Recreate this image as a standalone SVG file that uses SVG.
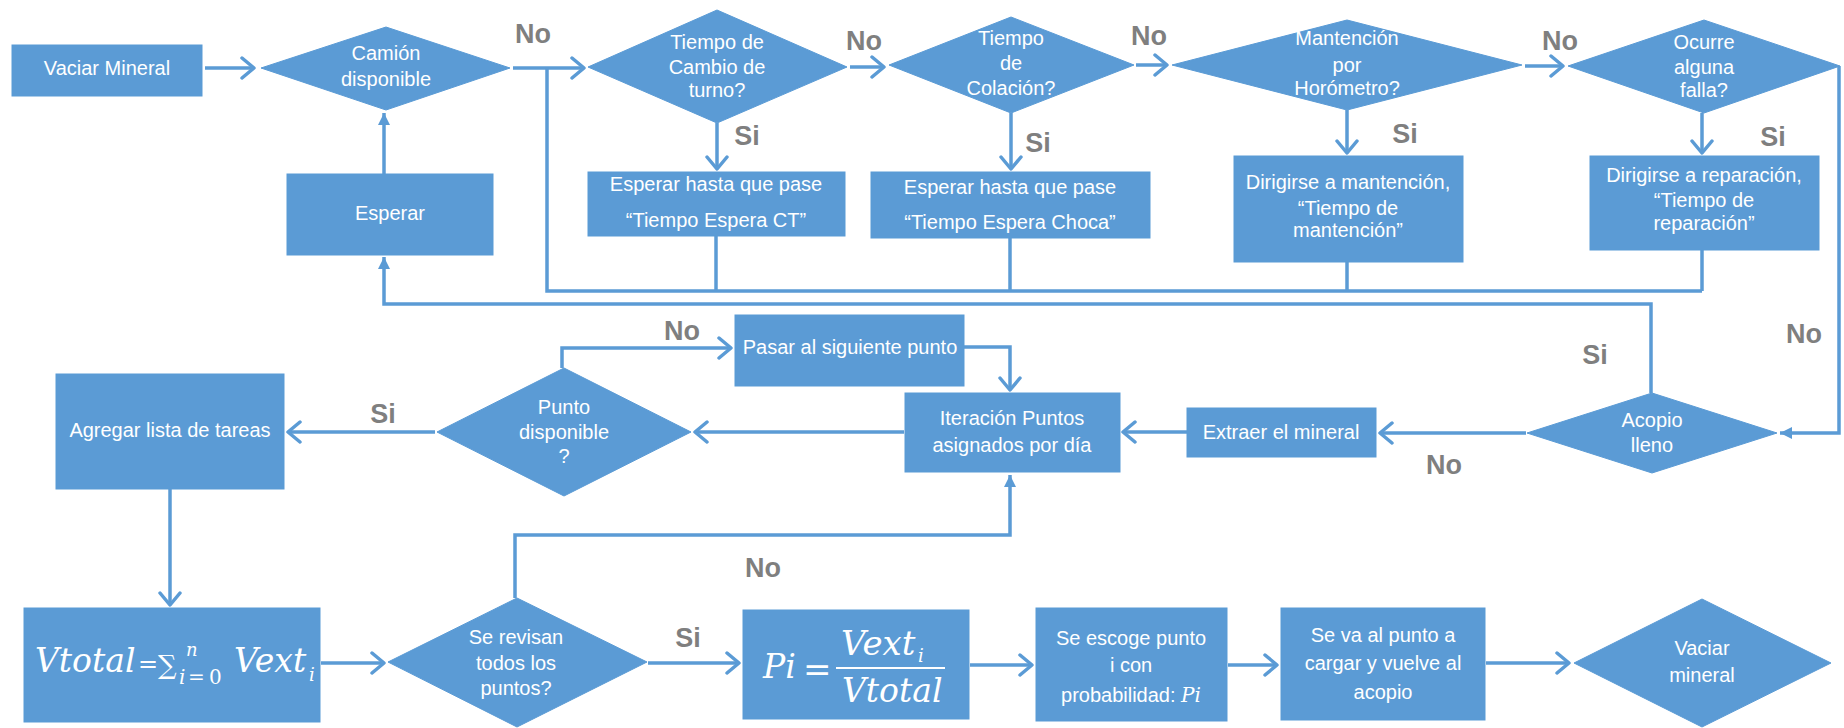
<svg xmlns="http://www.w3.org/2000/svg" width="1844" height="728" viewBox="0 0 1844 728">
<defs>
<style>
.box{fill:#5b9bd5;stroke:#5b9bd5;stroke-width:1}
.t{font-family:"Liberation Sans",Arial,sans-serif;font-size:20px;fill:#ffffff;text-anchor:middle}
.m{font-family:"DejaVu Serif","Liberation Serif",serif;font-style:italic;fill:#ffffff}
.mu{font-family:"DejaVu Serif","Liberation Serif",serif;font-style:normal;fill:#ffffff}
.lbl{font-family:"Liberation Sans",Arial,sans-serif;font-size:27px;font-weight:bold;fill:#7f7f7f;text-anchor:middle}
.c{fill:none;stroke:#5b9bd5;stroke-width:3.5}
.o{marker-end:url(#open)}
.f{marker-end:url(#tri)}
</style>
<marker id="open" viewBox="0 0 16 24" refX="14" refY="12" markerWidth="16" markerHeight="24" orient="auto" markerUnits="userSpaceOnUse">
<path d="M2,2 L14,12 L2,22" fill="none" stroke="#5b9bd5" stroke-width="3.5" stroke-linecap="round" stroke-linejoin="round"/>
</marker>
<marker id="tri" viewBox="0 0 12 12" refX="12" refY="6" markerWidth="12" markerHeight="12" orient="auto" markerUnits="userSpaceOnUse">
<path d="M0,0 L12,6 L0,12 z" fill="#5b9bd5"/>
</marker>
</defs>
<rect width="1844" height="728" fill="#ffffff"/>

<g id="connectors">
<path class="c o" d="M205,68 L254,68"/>
<path class="c o" d="M513,68 L584,68"/>
<path class="c" d="M547,68 L547,291 L1702,291"/>
<path class="c o" d="M850,67 L884,67"/>
<path class="c o" d="M1136,65 L1167,65"/>
<path class="c o" d="M1525,66 L1563,66"/>
<path class="c o" d="M717,123 L717,169"/>
<path class="c o" d="M1011,113 L1011,169"/>
<path class="c o" d="M1347,110 L1347,153"/>
<path class="c o" d="M1702,113 L1702,153"/>
<path class="c" d="M716,236 L716,291"/>
<path class="c" d="M1010,238 L1010,291"/>
<path class="c" d="M1347,262 L1347,291"/>
<path class="c" d="M1702,250 L1702,291"/>
<path class="c f" d="M1651,393 L1651,304 L384,304 L384,257"/>
<path class="c f" d="M384,174 L384,113"/>
<path class="c f" d="M1839,66 L1839,433 L1780,433"/>
<path class="c o" d="M1526,433 L1380,433"/>
<path class="c o" d="M1187,432 L1123,432"/>
<path class="c o" d="M964,347 L1010,347 L1010,390"/>
<path class="c o" d="M562,368 L562,348 L731,348"/>
<path class="c o" d="M904,432 L695,432"/>
<path class="c o" d="M435,432 L288,432"/>
<path class="c o" d="M170,489 L170,605"/>
<path class="c o" d="M321,663 L384,663"/>
<path class="c f" d="M515,598 L515,535 L1010,535 L1010,475"/>
<path class="c o" d="M648,663 L739,663"/>
<path class="c o" d="M970,665 L1032,665"/>
<path class="c o" d="M1228,665 L1277,665"/>
<path class="c o" d="M1486,663 L1569,663"/>
</g>

<g id="labels">
<text class="lbl" x="533" y="43">No</text>
<text class="lbl" x="864" y="50">No</text>
<text class="lbl" x="1149" y="45">No</text>
<text class="lbl" x="1560" y="50">No</text>
<text class="lbl" x="747" y="145">Si</text>
<text class="lbl" x="1038" y="152">Si</text>
<text class="lbl" x="1405" y="143">Si</text>
<text class="lbl" x="1773" y="146">Si</text>
<text class="lbl" x="682" y="340">No</text>
<text class="lbl" x="383" y="423">Si</text>
<text class="lbl" x="1595" y="364">Si</text>
<text class="lbl" x="1804" y="343">No</text>
<text class="lbl" x="1444" y="474">No</text>
<text class="lbl" x="763" y="577">No</text>
<text class="lbl" x="688" y="647">Si</text>
</g>

<g id="n_vaciar">
<rect class="box" x="12" y="45" width="190" height="51"/>
<text class="t" x="107" y="75">Vaciar Mineral</text>
</g>
<g id="n_camion">
<polygon class="box" points="386,27 510,68 386,110 261,68"/>
<text class="t" x="386" y="60">Camión</text>
<text class="t" x="386" y="86">disponible</text>
</g>
<g id="n_cambio_turno">
<polygon class="box" points="717,10 847,67 717,123 588,67"/>
<text class="t" x="717" y="49">Tiempo de</text>
<text class="t" x="717" y="74">Cambio de</text>
<text class="t" x="717" y="97">turno?</text>
</g>
<g id="n_colacion">
<polygon class="box" points="1011,17 1134,65 1011,113 889,65"/>
<text class="t" x="1011" y="45">Tiempo</text>
<text class="t" x="1011" y="70">de</text>
<text class="t" x="1011" y="95">Colación?</text>
</g>
<g id="n_horometro">
<polygon class="box" points="1347,20 1522,65 1347,110 1172,65"/>
<text class="t" x="1347" y="45">Mantención</text>
<text class="t" x="1347" y="72">por</text>
<text class="t" x="1347" y="95">Horómetro?</text>
</g>
<g id="n_falla">
<polygon class="box" points="1704,20 1840,66 1704,113 1568,66"/>
<text class="t" x="1704" y="49">Ocurre</text>
<text class="t" x="1704" y="74">alguna</text>
<text class="t" x="1704" y="97">falla?</text>
</g>
<g id="n_esperar">
<rect class="box" x="287" y="174" width="206" height="81"/>
<text class="t" x="390" y="220">Esperar</text>
</g>
<g id="n_espera_ct">
<rect class="box" x="588" y="172" width="257" height="64"/>
<text class="t" x="716" y="191">Esperar hasta que pase</text>
<text class="t" x="716" y="227">“Tiempo Espera CT”</text>
</g>
<g id="n_espera_choca">
<rect class="box" x="871" y="172" width="279" height="66"/>
<text class="t" x="1010" y="194">Esperar hasta que pase</text>
<text class="t" x="1010" y="229">“Tiempo Espera Choca”</text>
</g>
<g id="n_mantencion">
<rect class="box" x="1234" y="156" width="229" height="106"/>
<text class="t" x="1348" y="189">Dirigirse a mantención,</text>
<text class="t" x="1348" y="215">“Tiempo de</text>
<text class="t" x="1348" y="237">mantención”</text>
</g>
<g id="n_reparacion">
<rect class="box" x="1590" y="156" width="229" height="94"/>
<text class="t" x="1704" y="182">Dirigirse a reparación,</text>
<text class="t" x="1704" y="207">“Tiempo de</text>
<text class="t" x="1704" y="230">reparación”</text>
</g>
<g id="n_acopio">
<polygon class="box" points="1652,393 1777,433 1652,473 1527,433"/>
<text class="t" x="1652" y="427">Acopio</text>
<text class="t" x="1652" y="452">lleno</text>
</g>
<g id="n_extraer">
<rect class="box" x="1187" y="408" width="189" height="49"/>
<text class="t" x="1281" y="439">Extraer el mineral</text>
</g>
<g id="n_iteracion">
<rect class="box" x="905" y="393" width="215" height="79"/>
<text class="t" x="1012" y="425">Iteración Puntos</text>
<text class="t" x="1012" y="452">asignados por día</text>
</g>
<g id="n_pasar">
<rect class="box" x="735" y="315" width="229" height="71"/>
<text class="t" x="850" y="354">Pasar al siguiente punto</text>
</g>
<g id="n_punto">
<polygon class="box" points="564,368 691,432 564,496 437,432"/>
<text class="t" x="564" y="414">Punto</text>
<text class="t" x="564" y="439">disponible</text>
<text class="t" x="564" y="463">?</text>
</g>
<g id="n_agregar">
<rect class="box" x="56" y="374" width="228" height="115"/>
<text class="t" x="170" y="437">Agregar lista de tareas</text>
</g>
<g id="n_vtotal">
<rect class="box" x="24" y="608" width="296" height="114"/>
<text class="m" font-size="33"><tspan x="35" y="672">Vtotal</tspan><tspan class="mu" x="138" y="672" font-size="24">=</tspan><tspan class="mu" x="158" y="674" font-size="26">∑</tspan><tspan x="186" y="656" font-size="18">n</tspan><tspan x="179" y="684" font-size="20">i</tspan><tspan class="mu" x="188" y="684" font-size="20">=</tspan><tspan class="mu" x="209" y="684" font-size="20">0</tspan><tspan x="234" y="672">Vext</tspan><tspan x="309" y="681" font-size="18">i</tspan></text>
</g>
<g id="n_revisan">
<polygon class="box" points="517,598 647,662 517,727 388,662"/>
<text class="t" x="516" y="644">Se revisan</text>
<text class="t" x="516" y="670">todos los</text>
<text class="t" x="516" y="695">puntos?</text>
</g>
<g id="n_pi">
<rect class="box" x="743" y="610" width="226" height="109"/>
<text class="m" font-size="33"><tspan x="763" y="678">Pi</tspan><tspan class="mu" x="803" y="681" font-size="34">=</tspan></text>
<line x1="836" y1="668" x2="945" y2="668" stroke="#ffffff" stroke-width="2"/>
<text class="m" font-size="34"><tspan x="841" y="655">Vext</tspan><tspan x="918" y="662" font-size="18">i</tspan></text>
<text class="m" font-size="33" x="842" y="702">Vtotal</text>
</g>
<g id="n_escoge">
<rect class="box" x="1036" y="608" width="191" height="113"/>
<text class="t" x="1131" y="645">Se escoge punto</text>
<text class="t" x="1131" y="672">i con</text>
<text class="t" x="1131" y="702">probabilidad: <tspan font-family="DejaVu Serif,Liberation Serif,serif" font-style="italic">Pi</tspan></text>
</g>
<g id="n_seva">
<rect class="box" x="1281" y="608" width="204" height="112"/>
<text class="t" x="1383" y="642">Se va al punto a</text>
<text class="t" x="1383" y="670">cargar y vuelve al</text>
<text class="t" x="1383" y="699">acopio</text>
</g>
<g id="n_vaciar_mineral">
<polygon class="box" points="1702,599 1831,663 1702,727 1574,663"/>
<text class="t" x="1702" y="655">Vaciar</text>
<text class="t" x="1702" y="682">mineral</text>
</g>
</svg>
